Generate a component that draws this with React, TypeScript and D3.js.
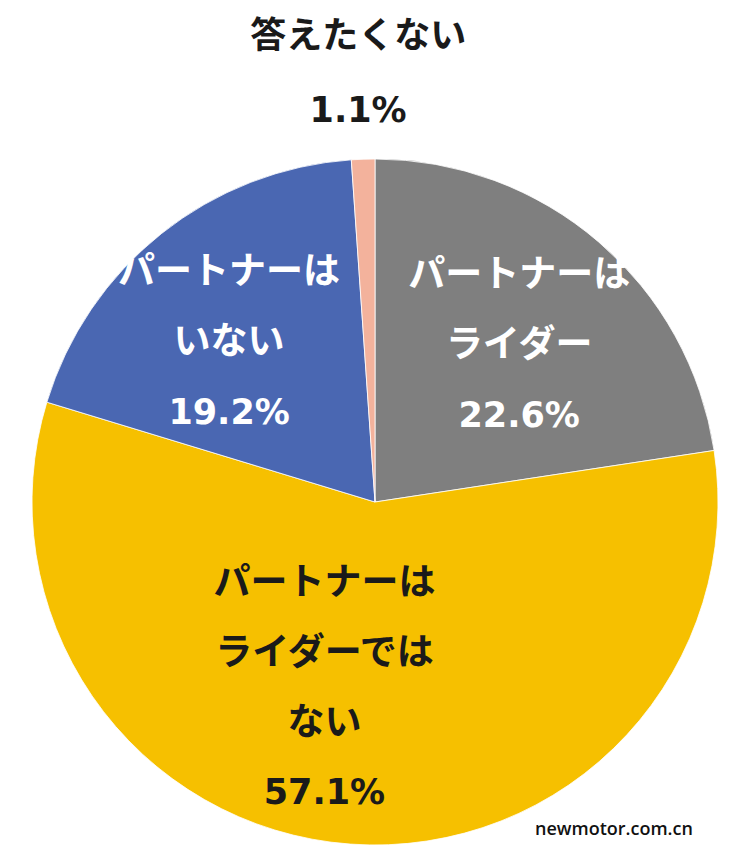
import React, { useEffect, useRef } from 'react';
import * as d3 from 'd3';

// slices, clockwise from 12 o'clock
const categories = ['パートナーはライダー', 'パートナーはライダーではない', 'パートナーはいない', '答えたくない'];
const values = [22.6, 57.1, 19.2, 1.1];
const labelLines = [
  ['パートナーは', 'ライダー'],
  ['パートナーは', 'ライダーでは', 'ない'],
  ['パートナーは', 'いない'],
  ['答えたくない'],
];
const colors = ['#7f7f7f', '#f6c000', '#4a67b2', '#f3b29c'];
const textColors = ['#ffffff', '#1a1a1a', '#ffffff', '#1a1a1a'];

// label placement: radius of the label arc and small hand nudges (like Excel's dragged labels)
const labelRadius = [215, 215, 215, 430];
const labelNudge: [number, number][] = [[4, 5], [-35, -30], [-12, 7], [-2, 0]];

export default function App() {
  const ref = useRef<SVGSVGElement>(null);

  useEffect(() => {
    if (!ref.current) return;
    const width = 750;
    const height = 861;
    const cx = 375;
    const cy = 502;
    const r = 343;

    const svg = d3.select(ref.current);
    svg.selectAll('*').remove();

    const data = categories.map((c, i) => ({ c, v: values[i], i }));

    const pie = d3.pie<any>()
      .sort(null)
      .value(d => d.v)
      .startAngle(0)
      .endAngle(2 * Math.PI);

    const arcs = pie(data);
    const arc = d3.arc<any>().innerRadius(0).outerRadius(r);

    const g = svg.append('g').attr('transform', `translate(${cx},${cy})`);

    g.selectAll('path')
      .data(arcs)
      .join('path')
      .attr('d', arc)
      .attr('fill', d => colors[d.data.i])
      .attr('stroke', '#ffffff')
      .attr('stroke-width', 0.8);

    const font = '"Noto Sans CJK JP", "Noto Sans", sans-serif';
    const numFont = '"DejaVu Sans", "Noto Sans", sans-serif';

    arcs.forEach(d => {
      const i = d.data.i;
      const rr = labelRadius[i];
      const la = d3.arc<any>().innerRadius(rr).outerRadius(rr);
      const [x0, y0] = la.centroid(d);
      const x = x0 + labelNudge[i][0];
      const y = y0 + labelNudge[i][1];
      const lines = [...labelLines[i], `${values[i].toFixed(1)}%`];
      const lh = i === 3 ? 74 : 70;
      const top = y - ((lines.length - 1) * lh) / 2;
      const t = g.append('text')
        .attr('text-anchor', 'middle')
        .attr('fill', textColors[i])
        .attr('font-family', font)
        .attr('font-weight', 700)
        .attr('font-size', i === 3 ? 36 : 37);
      lines.forEach((ln, k) => {
        const isNum = k === lines.length - 1;
        t.append('tspan')
          .attr('x', x)
          .attr('y', top + k * lh)
          .attr('dy', isNum ? '0.37em' : '0.36em')
          .attr('font-family', isNum ? numFont : font)
          .attr('font-size', isNum ? 35 : null)
          .text(ln);
      });
    });

    svg.append('text')
      .attr('x', 614)
      .attr('y', 835)
      .attr('text-anchor', 'middle')
      .attr('font-family', '"Open Sans", "Noto Sans", sans-serif')
      .attr('font-weight', 600)
      .attr('font-size', 18)
      .attr('fill', '#111111')
      .text('newmotor.com.cn');

    svg.attr('width', width).attr('height', height);
  }, []);

  return (
    <svg
      ref={ref}
      width={750}
      height={861}
      style={{ position: 'absolute', left: 0, top: 0, background: '#ffffff' }}
    />
  );
}
